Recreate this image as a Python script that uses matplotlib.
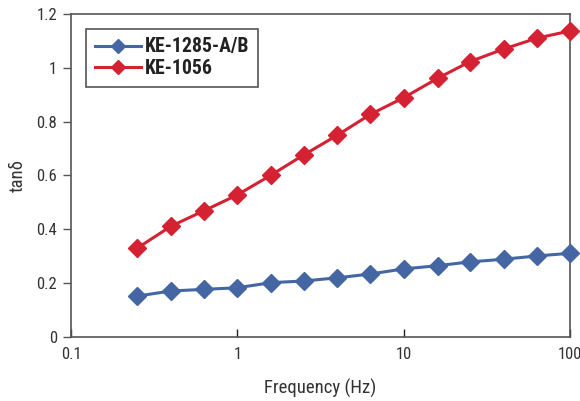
import matplotlib

matplotlib.use("Agg")
import matplotlib.pyplot as plt
from matplotlib import font_manager

# prefer a condensed face if one is installed, else Roboto
names = {f.name for f in font_manager.fontManager.ttflist}
family = [n for n in ["Roboto Condensed", "Liberation Sans Narrow", "Roboto"] if n in names]
plt.rcParams["font.family"] = family + ["DejaVu Sans"]

freq = [0.25, 0.4, 0.63, 1.0, 1.6, 2.5, 4.0, 6.3, 10, 16, 25, 40, 63, 100]
ke1285 = [0.152, 0.171, 0.177, 0.183, 0.202, 0.208, 0.220, 0.234, 0.253, 0.265, 0.279, 0.289, 0.301, 0.311]
ke1056 = [0.330, 0.412, 0.469, 0.528, 0.602, 0.676, 0.750, 0.827, 0.889, 0.961, 1.023, 1.070, 1.110, 1.137]

x_ticks = [0.1, 1, 10, 100]
x_labels = ["0.1", "1", "10", "100"]
y_ticks = [0, 0.2, 0.4, 0.6, 0.8, 1.0, 1.2]
y_labels = ["0", "0.2", "0.4", "0.6", "0.8", "1", "1.2"]

blue = "#4467a3"
red = "#d42232"
grey = "#555555"
txt = "#333333"

fig = plt.figure(figsize=(5.8, 4.01), dpi=100)
ax = fig.add_axes([0.1224, 0.1596, 0.8604, 0.8055])

ax.plot(freq, ke1285, "D-", color=blue, lw=2.2, ms=9, label="KE-1285-A/B", clip_on=False, zorder=3)
ax.plot(freq, ke1056, "D-", color=red, lw=2.2, ms=9, label="KE-1056", clip_on=False, zorder=3)

ax.set_xscale("log")
ax.set_xlim(0.1, 100)
ax.set_ylim(0, 1.2)
ax.set_xticks(x_ticks)
ax.set_xticklabels(x_labels)
ax.set_yticks(y_ticks)
ax.set_yticklabels(y_labels)
ax.minorticks_off()

ax.tick_params(axis="x", direction="in", length=6, width=1, color="#222222", labelsize=12,
               labelcolor=txt, pad=7)
ax.tick_params(axis="y", direction="out", length=6, width=1, color=grey, labelsize=12,
               labelcolor=txt, pad=4)
for s in ax.spines.values():
    s.set_color(grey)
    s.set_linewidth(1.2)

ax.set_xlabel("Frequency (Hz)", fontsize=13.5, color=txt, labelpad=12)
ax.set_ylabel("tanδ", fontsize=13.5, color=txt, labelpad=7)

leg = ax.legend(loc="upper left", bbox_to_anchor=(0.031, 0.955), fancybox=False, framealpha=1,
                edgecolor=grey, prop={"weight": "bold", "size": 14.2}, handlelength=2.3,
                markerscale=0.75, borderpad=0.45, labelspacing=0.15, handletextpad=0.2,
                borderaxespad=0)
leg.get_frame().set_linewidth(1.2)
for t in leg.get_texts():
    t.set_color("#222222")

fig.savefig("out.png", dpi=100)
